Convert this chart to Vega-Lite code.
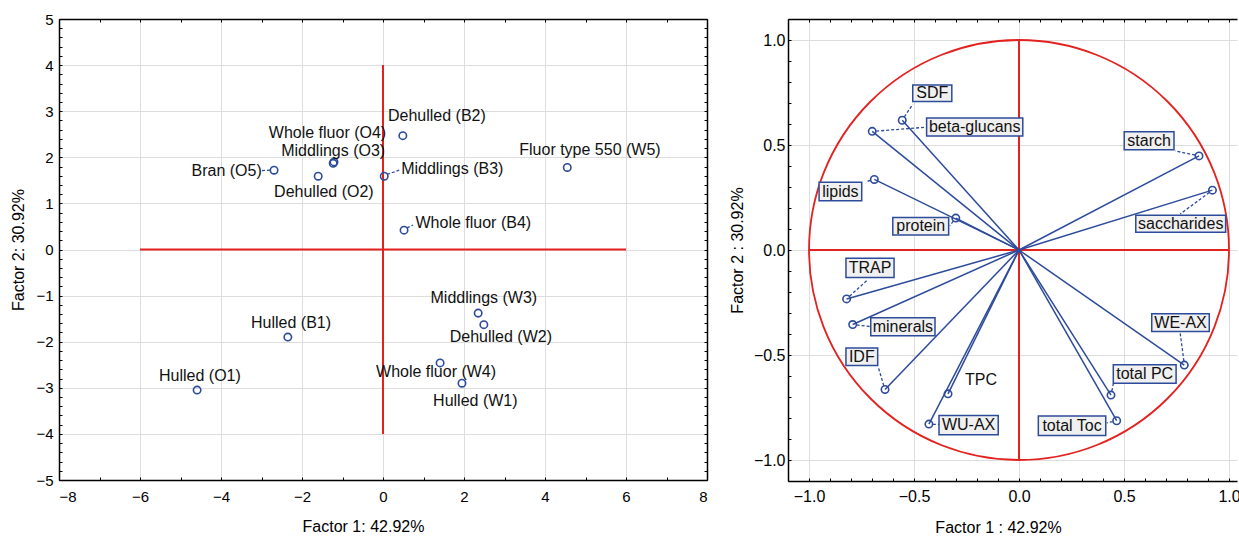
{
  "$schema": "https://vega.github.io/schema/vega-lite/v6.json",
  "background": "white",
  "padding": {"left": 10, "top": 12, "right": 0, "bottom": 0},
  "spacing": 21,
  "config": {
    "font": "Liberation Sans",
    "view": {"stroke": null},
    "axis": {
      "labelFont": "Liberation Sans", "titleFont": "Liberation Sans",
      "labelFontSize": 15, "titleFontSize": 16, "titleFontWeight": "normal",
      "labelColor": "black", "titleColor": "black",
      "domainColor": "black", "domainWidth": 1.5,
      "tickColor": "black", "tickWidth": 1, "tickSize": -3,
      "gridColor": "#dddddd", "gridWidth": 1
    }
  },
  "datasets": {
    "scores": [
      {"name": "Hulled (O1)", "x": -4.59, "y": -3.05, "lx": -4.52, "ly": -2.75},
      {"name": "Hulled (B1)", "x": -2.35, "y": -1.9, "lx": -2.27, "ly": -1.59},
      {"name": "Bran (O5)", "x": -2.69, "y": 1.72, "lx": -3.86, "ly": 1.71},
      {"name": "Dehulled (O2)", "x": -1.6, "y": 1.59, "lx": -1.46, "ly": 1.25},
      {"name": "Middlings (O3)", "x": -1.21, "y": 1.9, "lx": -1.23, "ly": 2.14},
      {"name": "Whole fluor (O4)", "x": -1.23, "y": 1.87, "lx": -1.37, "ly": 2.53},
      {"name": "Middlings (B3)", "x": 0.03, "y": 1.59, "lx": 1.71, "ly": 1.75},
      {"name": "Dehulled (B2)", "x": 0.49, "y": 2.47, "lx": 1.33, "ly": 2.9},
      {"name": "Whole fluor (B4)", "x": 0.52, "y": 0.42, "lx": 2.23, "ly": 0.57},
      {"name": "Fluor type 550 (W5)", "x": 4.55, "y": 1.78, "lx": 5.11, "ly": 2.16},
      {"name": "Middlings (W3)", "x": 2.35, "y": -1.38, "lx": 2.49, "ly": -1.05},
      {"name": "Dehulled (W2)", "x": 2.49, "y": -1.63, "lx": 2.91, "ly": -1.89},
      {"name": "Whole fluor (W4)", "x": 1.41, "y": -2.46, "lx": 1.31, "ly": -2.66},
      {"name": "Hulled (W1)", "x": 1.95, "y": -2.9, "lx": 2.28, "ly": -3.28}
    ],
    "scoreLinks": [
      {"x1": -2.79, "y1": 1.72, "x2": -3.01, "y2": 1.71},
      {"x1": 0.1, "y1": 1.63, "x2": 0.4, "y2": 1.72},
      {"x1": 0.59, "y1": 0.47, "x2": 0.74, "y2": 0.53}
    ],
    "refLeft": [
      {"x1": -6, "x2": 6, "y1": 0, "y2": 0},
      {"x1": 0, "x2": 0, "y1": -4, "y2": 4}
    ],
    "refRight": [
      {"x1": -1, "x2": 1, "y1": 0, "y2": 0},
      {"x1": 0, "x2": 0, "y1": -1, "y2": 1}
    ],
    "loadings": [
      {"name": "SDF", "x": -0.556, "y": 0.618, "bx1": -0.506, "bx2": -0.32, "by1": 0.707, "by2": 0.786, "lx": -0.413, "ly": 0.7465, "sx": -0.546, "sy": 0.634, "ex": -0.506, "ey": 0.694},
      {"name": "beta-glucans", "x": -0.699, "y": 0.565, "bx1": -0.44, "bx2": 0.018, "by1": 0.543, "by2": 0.628, "lx": -0.211, "ly": 0.5855, "sx": -0.68, "sy": 0.566, "ex": -0.44, "ey": 0.585},
      {"name": "lipids", "x": -0.689, "y": 0.336, "bx1": -0.952, "bx2": -0.749, "by1": 0.234, "by2": 0.323, "lx": -0.8505, "ly": 0.2785, "sx": -0.707, "sy": 0.331, "ex": -0.73, "ey": 0.325},
      {"name": "protein", "x": -0.301, "y": 0.152, "bx1": -0.601, "bx2": -0.335, "by1": 0.071, "by2": 0.155, "lx": -0.468, "ly": 0.113, "sx": -0.313, "sy": 0.137, "ex": -0.329, "ey": 0.116},
      {"name": "TRAP", "x": -0.821, "y": -0.233, "bx1": -0.824, "bx2": -0.595, "by1": -0.131, "by2": -0.039, "lx": -0.7095, "ly": -0.085, "sx": -0.807, "sy": -0.22, "ex": -0.725, "ey": -0.146},
      {"name": "minerals", "x": -0.792, "y": -0.355, "bx1": -0.706, "bx2": -0.4, "by1": -0.408, "by2": -0.323, "lx": -0.553, "ly": -0.3655, "sx": -0.773, "sy": -0.357, "ex": -0.706, "ey": -0.365},
      {"name": "IDF", "x": -0.638, "y": -0.664, "bx1": -0.824, "bx2": -0.673, "by1": -0.55, "by2": -0.467, "lx": -0.7485, "ly": -0.5085, "sx": -0.644, "sy": -0.646, "ex": -0.67, "ey": -0.558},
      {"name": "WU-AX", "x": -0.429, "y": -0.829, "bx1": -0.381, "bx2": -0.099, "by1": -0.88, "by2": -0.788, "lx": -0.24, "ly": -0.834, "sx": -0.41, "sy": -0.83, "ex": -0.381, "ey": -0.831},
      {"name": "starch", "x": 0.857, "y": 0.448, "bx1": 0.501, "bx2": 0.738, "by1": 0.477, "by2": 0.563, "lx": 0.6195, "ly": 0.52, "sx": 0.838, "sy": 0.452, "ex": 0.743, "ey": 0.472},
      {"name": "saccharides", "x": 0.921, "y": 0.285, "bx1": 0.556, "bx2": 0.984, "by1": 0.084, "by2": 0.166, "lx": 0.77, "ly": 0.125, "sx": 0.906, "sy": 0.274, "ex": 0.767, "ey": 0.171},
      {"name": "WE-AX", "x": 0.787, "y": -0.548, "bx1": 0.632, "bx2": 0.906, "by1": -0.388, "by2": -0.304, "lx": 0.769, "ly": -0.346, "sx": 0.785, "sy": -0.529, "ex": 0.767, "ey": -0.391},
      {"name": "total PC", "x": 0.438, "y": -0.691, "bx1": 0.449, "bx2": 0.748, "by1": -0.634, "by2": -0.547, "lx": 0.5985, "ly": -0.5905, "sx": 0.442, "sy": -0.672, "ex": 0.449, "ey": -0.637},
      {"name": "total Toc", "x": 0.465, "y": -0.813, "bx1": 0.092, "bx2": 0.413, "by1": -0.883, "by2": -0.791, "lx": 0.2525, "ly": -0.837, "sx": 0.446, "sy": -0.817, "ex": 0.418, "ey": -0.823},
      {"name": "TPC", "x": -0.338, "y": -0.685, "lx": -0.181, "ly": -0.617}
    ]
  },
  "hconcat": [
    {
      "width": 648,
      "height": 461,
      "resolve": {"axis": {"x": "independent", "y": "independent"}},
      "layer": [
        {
          "data": {"name": "refLeft"},
          "mark": {"type": "rule", "color": "#e3221f", "strokeWidth": 2},
          "encoding": {
            "x": {"field": "x1", "type": "quantitative", "scale": {"domain": [-8, 8], "nice": false, "zero": false},
              "axis": {"orient": "top", "labels": false, "grid": false, "title": null, "values": [-8,-7,-6,-5,-4,-3,-2,-1,0,1,2,3,4,5,6,7,8]}},
            "x2": {"field": "x2"},
            "y": {"field": "y1", "type": "quantitative", "scale": {"domain": [-5, 5], "nice": false, "zero": false},
              "axis": {"orient": "right", "labels": false, "grid": false, "title": null, "values": [-5,-4.8,-4.6,-4.4,-4.2,-4,-3.8,-3.6,-3.4,-3.2,-3,-2.8,-2.6,-2.4,-2.2,-2,-1.8,-1.6,-1.4,-1.2,-1,-0.8,-0.6,-0.4,-0.2,0,0.2,0.4,0.6,0.8,1,1.2,1.4,1.6,1.8,2,2.2,2.4,2.6,2.8,3,3.2,3.4,3.6,3.8,4,4.2,4.4,4.6,4.8,5]}},
            "y2": {"field": "y2"}
          }
        },
        {
          "data": {"name": "scoreLinks"},
          "mark": {"type": "rule", "color": "#2d4b9b", "strokeWidth": 1.3, "strokeDash": [3, 2]},
          "encoding": {
            "x": {"field": "x1", "type": "quantitative", "axis": null},
            "x2": {"field": "x2"},
            "y": {"field": "y1", "type": "quantitative", "axis": null},
            "y2": {"field": "y2"}
          }
        },
        {
          "data": {"name": "scores"},
          "mark": {"type": "point", "filled": false, "color": "#2d4b9b", "size": 55, "strokeWidth": 1.6, "opacity": 1},
          "encoding": {
            "x": {"field": "x", "type": "quantitative", "scale": {"domain": [-8, 8], "nice": false, "zero": false},
              "axis": {"orient": "bottom", "title": "Factor 1: 42.92%", "titleX": 304, "titleY": 46, "titleBaseline": "middle", "format": ".0f", "labelPadding": 12, "grid": true,
                "values": [-8,-7,-6,-5,-4,-3,-2,-1,0,1,2,3,4,5,6,7,8],
                "labelExpr": "datum.value % 2 == 0 ? datum.label : ''",
                "gridOpacity": {"condition": {"test": "datum.value % 2 == 0", "value": 1}, "value": 0}}},
            "y": {"field": "y", "type": "quantitative", "scale": {"domain": [-5, 5], "nice": false, "zero": false},
              "axis": {"orient": "left", "title": "Factor 2: 30.92%", "titlePadding": 9, "format": ".0f", "labelPadding": 9, "grid": true,
                "values": [-5,-4.8,-4.6,-4.4,-4.2,-4,-3.8,-3.6,-3.4,-3.2,-3,-2.8,-2.6,-2.4,-2.2,-2,-1.8,-1.6,-1.4,-1.2,-1,-0.8,-0.6,-0.4,-0.2,0,0.2,0.4,0.6,0.8,1,1.2,1.4,1.6,1.8,2,2.2,2.4,2.6,2.8,3,3.2,3.4,3.6,3.8,4,4.2,4.4,4.6,4.8,5],
                "labelExpr": "abs(datum.value - round(datum.value)) < 0.001 ? datum.label : ''",
                "gridOpacity": {"condition": {"test": "abs(datum.value - round(datum.value)) < 0.001", "value": 1}, "value": 0}}}
          }
        },
        {
          "data": {"name": "scores"},
          "mark": {"type": "text", "font": "Liberation Sans", "fontSize": 16, "color": "#111111", "baseline": "middle", "align": "center"},
          "encoding": {
            "x": {"field": "lx", "type": "quantitative", "axis": null},
            "y": {"field": "ly", "type": "quantitative", "axis": null},
            "text": {"field": "name"}
          }
        }
      ]
    },
    {
      "width": 449,
      "height": 462,
      "resolve": {"axis": {"x": "independent", "y": "independent"}},
      "layer": [
        {
          "data": {"name": "refRight"},
          "mark": {"type": "rule", "color": "#e3221f", "strokeWidth": 2},
          "encoding": {
            "x": {"field": "x1", "type": "quantitative", "scale": {"domain": [-1.1, 1.038], "nice": false, "zero": false},
              "axis": {"orient": "top", "labels": false, "grid": false, "title": null, "values": [-1.1,-1,-0.9,-0.8,-0.7,-0.6,-0.5,-0.4,-0.3,-0.2,-0.1,0,0.1,0.2,0.3,0.4,0.5,0.6,0.7,0.8,0.9,1]}},
            "x2": {"field": "x2"},
            "y": {"field": "y1", "type": "quantitative", "scale": {"domain": [-1.1, 1.1], "nice": false, "zero": false},
              "axis": {"orient": "right", "labels": false, "grid": false, "title": null, "domain": false, "ticks": false}},
            "y2": {"field": "y2"}
          }
        },
        {
          "data": {"values": [{"cx": 0, "cy": 0}]},
          "mark": {"type": "arc", "radius": 210, "theta": 0, "theta2": 6.2832, "filled": false, "stroke": "#e3221f", "strokeWidth": 1.8},
          "encoding": {
            "x": {"field": "cx", "type": "quantitative", "axis": null},
            "y": {"field": "cy", "type": "quantitative", "axis": null}
          }
        },
        {
          "data": {"name": "loadings"},
          "mark": {"type": "rule", "color": "#2d4b9b", "strokeWidth": 1.5},
          "encoding": {
            "x": {"field": "x", "type": "quantitative", "axis": null},
            "y": {"field": "y", "type": "quantitative", "axis": null},
            "x2": {"datum": 0},
            "y2": {"datum": 0}
          }
        },
        {
          "data": {"name": "loadings"},
          "mark": {"type": "rule", "color": "#2d4b9b", "strokeWidth": 1.3, "strokeDash": [3, 2]},
          "encoding": {
            "x": {"field": "sx", "type": "quantitative", "axis": null},
            "x2": {"field": "ex"},
            "y": {"field": "sy", "type": "quantitative", "axis": null},
            "y2": {"field": "ey"}
          }
        },
        {
          "data": {"name": "loadings"},
          "mark": {"type": "point", "filled": false, "color": "#2d4b9b", "size": 55, "strokeWidth": 1.6, "opacity": 1},
          "encoding": {
            "x": {"field": "x", "type": "quantitative", "scale": {"domain": [-1.1, 1.038], "nice": false, "zero": false},
              "axis": {"orient": "bottom", "title": "Factor 1 : 42.92%", "titleX": 210, "titleY": 46, "titleBaseline": "middle", "labelFontSize": 16, "format": ".1f", "labelPadding": 10, "grid": true,
                "values": [-1.1,-1,-0.9,-0.8,-0.7,-0.6,-0.5,-0.4,-0.3,-0.2,-0.1,0,0.1,0.2,0.3,0.4,0.5,0.6,0.7,0.8,0.9,1],
                "labelExpr": "abs(datum.value*2 - round(datum.value*2)) < 0.001 ? datum.label : ''",
                "gridOpacity": {"condition": {"test": "abs(datum.value*2 - round(datum.value*2)) < 0.001", "value": 1}, "value": 0}}},
            "y": {"field": "y", "type": "quantitative", "scale": {"domain": [-1.1, 1.1], "nice": false, "zero": false},
              "axis": {"orient": "left", "title": "Factor 2 : 30.92%", "titlePadding": 8, "labelFontSize": 16, "format": ".1f", "labelPadding": 6, "grid": true,
                "values": [-1.1,-1,-0.9,-0.8,-0.7,-0.6,-0.5,-0.4,-0.3,-0.2,-0.1,0,0.1,0.2,0.3,0.4,0.5,0.6,0.7,0.8,0.9,1,1.1],
                "labelExpr": "abs(datum.value*2 - round(datum.value*2)) < 0.001 ? datum.label : ''",
                "gridOpacity": {"condition": {"test": "abs(datum.value*2 - round(datum.value*2)) < 0.001", "value": 1}, "value": 0}}}
          }
        },
        {
          "data": {"name": "loadings"},
          "transform": [{"filter": "isValid(datum.bx1)"}],
          "mark": {"type": "rect", "fill": "#f0f0f0", "stroke": "#2d4b9b", "strokeWidth": 1.5},
          "encoding": {
            "x": {"field": "bx1", "type": "quantitative", "axis": null},
            "x2": {"field": "bx2"},
            "y": {"field": "by1", "type": "quantitative", "axis": null},
            "y2": {"field": "by2"}
          }
        },
        {
          "data": {"name": "loadings"},
          "mark": {"type": "text", "font": "Liberation Sans", "fontSize": 16, "color": "#111111", "baseline": "middle", "align": "center"},
          "encoding": {
            "x": {"field": "lx", "type": "quantitative", "axis": null},
            "y": {"field": "ly", "type": "quantitative", "axis": null},
            "text": {"field": "name"}
          }
        }
      ]
    }
  ]
}
